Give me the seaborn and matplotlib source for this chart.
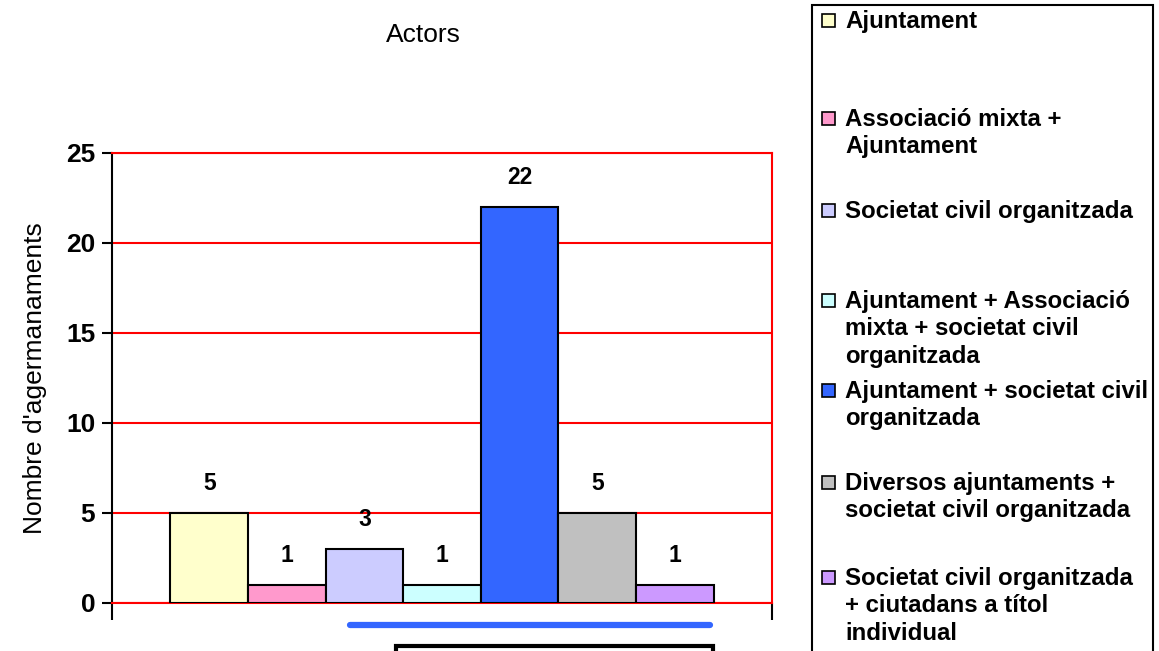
import matplotlib
matplotlib.use('Agg')
import matplotlib.pyplot as plt
import seaborn as sns
import pandas as pd
from matplotlib.patches import Rectangle
from matplotlib.lines import Line2D

# ---- data ----
title = "Actors"
ylabel = "Nombre d'agermanaments"
group = "Actors"
categories = [
    "Ajuntament",
    "Associació mixta + Ajuntament",
    "Societat civil organitzada",
    "Ajuntament + Associació mixta + societat civil organitzada",
    "Ajuntament + societat civil organitzada",
    "Diversos ajuntaments + societat civil organitzada",
    "Societat civil organitzada + ciutadans a títol individual",
]
legend_labels = [
    "Ajuntament",
    "Associació mixta +\nAjuntament",
    "Societat civil organitzada",
    "Ajuntament + Associació\nmixta + societat civil\norganitzada",
    "Ajuntament + societat civil\norganitzada",
    "Diversos ajuntaments +\nsocietat civil organitzada",
    "Societat civil organitzada\n+ ciutadans a títol\nindividual",
]
values = [5, 1, 3, 1, 22, 5, 1]
colors = ["#FFFFCC", "#FF99CC", "#CCCCFF", "#CCFFFF", "#3366FF", "#C0C0C0", "#CC99FF"]
yticks = [0, 5, 10, 15, 20, 25]

# ---- style ----
sns.set_theme(style="white")
plt.rcParams['font.family'] = ['Liberation Sans', 'DejaVu Sans']
plt.rcParams['text.color'] = 'black'
plt.rcParams['axes.labelcolor'] = 'black'
plt.rcParams['xtick.color'] = 'black'
plt.rcParams['ytick.color'] = 'black'

W, H = 1159, 651
fig = plt.figure(figsize=(W / 100, H / 100), dpi=100)

def fx(px):
    return px / W

def fy(py):
    return 1 - py / H

ax = fig.add_axes([fx(112), fy(603), fx(772) - fx(112), fy(153) - fy(603)])

df = pd.DataFrame({"group": [group] * len(categories), "actor": categories, "n": values})
sns.barplot(data=df, x="group", y="n", hue="actor", hue_order=categories,
            palette=colors, width=0.823, edgecolor="black", linewidth=1.5,
            saturation=1, legend=False, ax=ax, zorder=3)

ax.set_xlim(-0.5, 0.5)
ax.set_ylim(0, 25)
ax.set_yticks(yticks)
ax.set_yticklabels([str(t) for t in yticks], fontsize=19, fontweight="bold")
ax.set_xticks([-0.5, 0.5])
ax.set_xticklabels(["", ""])
ax.set_xlabel("")
ax.set_ylabel(ylabel, fontsize=19, labelpad=14)
ax.tick_params(axis="y", direction="out", length=7, width=1.5, color="black", left=True, pad=5)
ax.tick_params(axis="x", direction="out", length=12, width=1.5, color="black", bottom=True)

ax.yaxis.grid(True, color="red", linewidth=1.5)
ax.set_axisbelow(True)
for side in ["top", "right", "bottom"]:
    ax.spines[side].set_color("red")
    ax.spines[side].set_linewidth(1.5)
ax.spines["left"].set_color("black")
ax.spines["left"].set_linewidth(1.5)

for c in ax.containers:
    ax.bar_label(c, padding=13, fontsize=16.5, fontweight="bold", color="black")

fig.text(fx(423), fy(35), title, ha="center", va="center", fontsize=19)

# ---- legend (Excel style, manual layout) ----
fig.add_artist(Rectangle((fx(812), -0.05), fx(1153) - fx(812), fy(5) + 0.05,
                         transform=fig.transFigure, fill=False, edgecolor="black",
                         linewidth=1.5, clip_on=False))
handle_y = [20, 118, 210, 300, 390, 482, 577]
for lab, col, yc in zip(legend_labels, colors, handle_y):
    fig.add_artist(Rectangle((fx(822), fy(yc + 7)), fx(13), 13 / H,
                             transform=fig.transFigure, facecolor=col,
                             edgecolor="black", linewidth=1.2))
    fig.text(fx(845), fy(yc - 10), lab, ha="left", va="top", fontsize=17.3,
             fontweight="bold", linespacing=1.25)

# ---- cut-off decorations below the axis ----
fig.add_artist(Line2D([fx(350), fx(710)], [fy(625), fy(625)], color="#3366FF",
                      linewidth=4.5, transform=fig.transFigure))
fig.add_artist(Rectangle((fx(396), -0.05), fx(713) - fx(396), fy(646) + 0.05,
                         transform=fig.transFigure, fill=False, edgecolor="black",
                         linewidth=3, clip_on=False))

fig.savefig("out.png", dpi=100)
